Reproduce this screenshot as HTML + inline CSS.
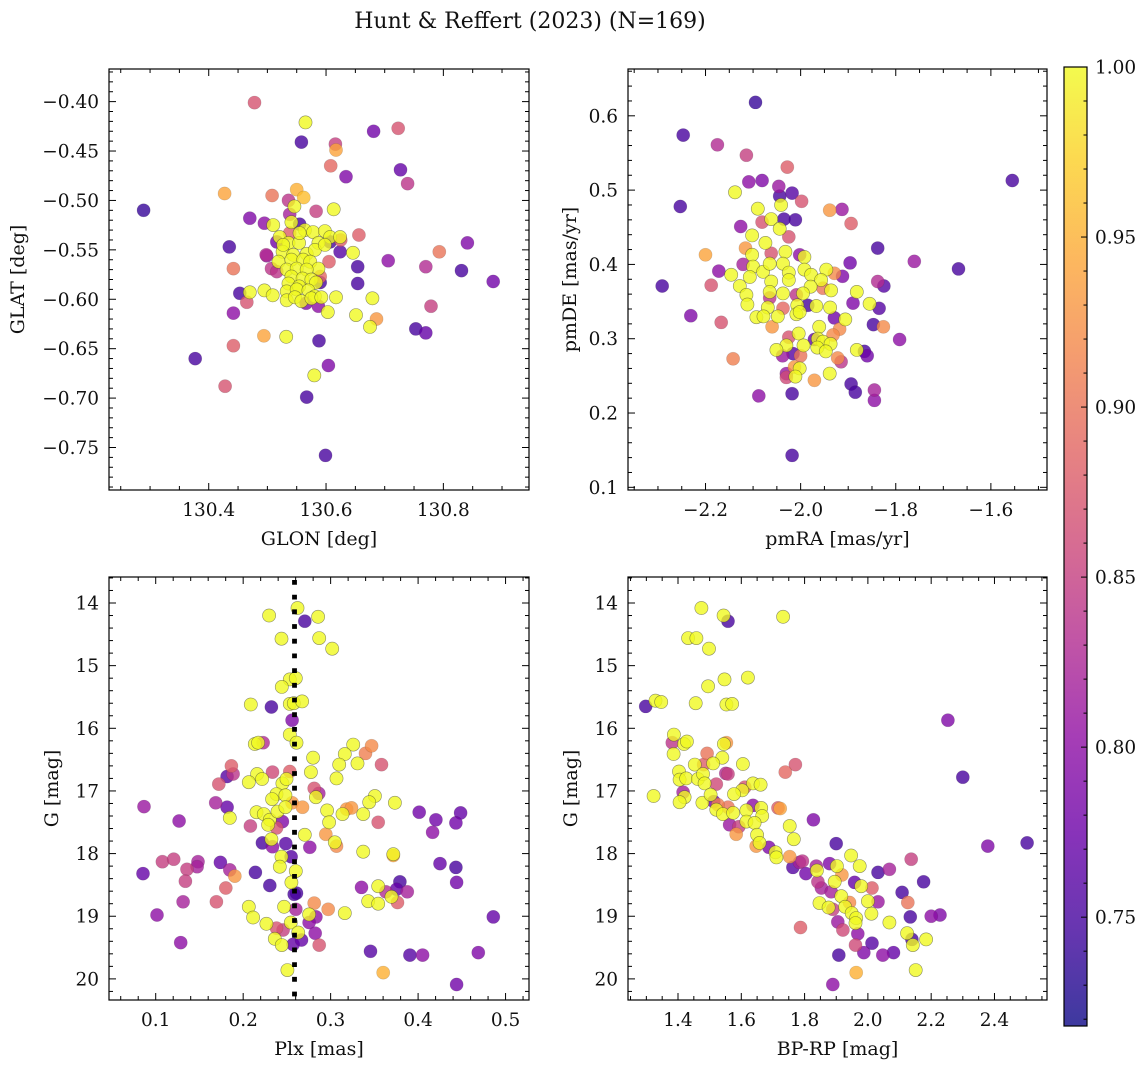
<!DOCTYPE html>
<html><head><meta charset="utf-8"><style>
html,body{margin:0;padding:0;background:#fff;}
svg text{font-family:"DejaVu Serif","Liberation Serif",serif;fill:#111;}
</style></head><body>
<svg id="fig" width="1148" height="1067" viewBox="0 0 1148 1067" xmlns="http://www.w3.org/2000/svg">
<defs>
<linearGradient id="plasmaGrad" x1="0" y1="1" x2="0" y2="0">
<stop offset="0" stop-color="#0d0887"/><stop offset="0.1" stop-color="#41049d"/><stop offset="0.2" stop-color="#6a00a8"/><stop offset="0.3" stop-color="#8f0da4"/><stop offset="0.4" stop-color="#b12a90"/><stop offset="0.5" stop-color="#cc4778"/><stop offset="0.6" stop-color="#e16462"/><stop offset="0.7" stop-color="#f2844b"/><stop offset="0.8" stop-color="#fca636"/><stop offset="0.9" stop-color="#fcce25"/><stop offset="1" stop-color="#f0f921"/>
</linearGradient>
</defs>
<text x="530" y="28" text-anchor="middle" font-size="22">Hunt &amp; Reffert (2023) (N=169)</text>
</svg>
<script>
// ---- Panel 1: GLON vs GLAT ----
const p1x=[130.478,130.565,130.558,130.681,130.723,130.616,130.617,130.608,130.634,130.727,130.739,130.427,130.508,130.550,130.562,130.536,130.546,130.583,130.613,130.289,130.470,130.495,130.510,130.538,130.541,130.555,130.656,130.625,130.624,130.841,130.793,130.435,130.646,130.442,130.499,130.507,130.605,130.654,130.706,130.770,130.831,130.885,130.654,130.453,130.470,130.495,130.509,130.465,130.617,130.679,130.442,130.603,130.651,130.686,130.675,130.779,130.753,130.770,130.494,130.532,130.588,130.442,130.377,130.604,130.580,130.428,130.567,130.599,
130.521,130.536,130.554,130.564,130.578,130.598,130.607,130.624,130.587,130.526,130.544,130.567,130.581,130.598,130.519,130.541,130.561,130.573,130.587,130.533,130.550,130.567,130.541,130.560,130.575,130.536,130.554,130.583,130.533,130.550,130.570,130.581,130.533,130.547,130.558,130.575,130.592,130.527,130.555,
130.516,130.498,130.516,130.590,130.590,130.566,130.587,130.607,130.538];
const p1y=[-0.401,-0.421,-0.441,-0.430,-0.427,-0.443,-0.449,-0.465,-0.476,-0.469,-0.483,-0.493,-0.495,-0.489,-0.497,-0.500,-0.506,-0.511,-0.509,-0.510,-0.518,-0.523,-0.525,-0.514,-0.522,-0.524,-0.535,-0.540,-0.552,-0.543,-0.552,-0.547,-0.553,-0.569,-0.556,-0.569,-0.562,-0.567,-0.561,-0.567,-0.571,-0.582,-0.584,-0.594,-0.593,-0.591,-0.596,-0.603,-0.598,-0.599,-0.614,-0.613,-0.616,-0.620,-0.628,-0.607,-0.630,-0.634,-0.637,-0.638,-0.642,-0.647,-0.660,-0.667,-0.677,-0.688,-0.699,-0.758,
-0.537,-0.543,-0.543,-0.530,-0.532,-0.531,-0.537,-0.537,-0.543,-0.552,-0.555,-0.554,-0.550,-0.545,-0.562,-0.560,-0.560,-0.562,-0.569,-0.570,-0.569,-0.570,-0.577,-0.579,-0.580,-0.584,-0.587,-0.583,-0.592,-0.590,-0.591,-0.597,-0.601,-0.598,-0.602,-0.599,-0.598,-0.545,-0.533,
-0.542,-0.555,-0.572,-0.577,-0.583,-0.604,-0.607,-0.542,-0.533];
const p1c=[.87,1,.75,.78,.87,.85,.94,.89,.79,.77,.84,.94,.90,.95,.96,.84,1,.85,1,.74,.79,.80,1,.82,1,.75,.88,.88,.76,.79,.90,.75,1,.90,.81,.84,.88,.75,.80,.83,.75,.78,.75,.75,1,1,1,.87,1,1,.80,1,1,.93,1,.85,.75,.77,.94,1,.75,.88,.75,.79,1,.87,.75,.75,
1,1,1,1,1,1,1,1,1,1,1,1,1,1,1,1,1,1,1,1,1,1,1,1,1,1,1,1,1,1,1,1,1,1,1,1,1,1,1,
.78,.83,.84,.89,.75,.79,.80,.75,.88];

// ---- Panel 2: pmRA vs pmDE ----
const p2x=[-2.095,-2.247,-2.175,-2.114,-2.028,-2.109,-2.081,-2.046,-2.018,-2.044,-2.138,-1.998,-2.253,-1.939,-1.913,-1.894,-2.090,-2.041,-2.062,-2.081,-2.035,-2.011,-2.126,-2.044,-2.025,-2.102,-2.074,-2.116,-2.102,-2.032,-2.062,-2.200,-1.838,-2.002,-1.992,-1.896,-1.761,-1.668,-1.555,-2.291,-2.172,-2.188,-2.146,-2.121,-2.100,-2.079,-2.065,-2.037,-2.025,-1.992,-1.978,-1.946,-1.929,-1.912,-1.957,-1.936,-1.953,-1.979,-2.128,-2.107,-2.062,-2.025,-1.838,-1.825,-1.882,-2.114,-2.065,-2.037,-2.009,-1.995,-2.065,-2.112,-2.069,-2.037,-2.007,-1.985,-1.967,-1.938,-1.890,-1.855,-1.835,-2.231,-2.167,-2.093,-2.078,-2.048,-2.009,-2.002,-1.929,-1.906,-2.060,-1.847,-1.826,-1.792,-1.961,-1.918,-1.932,-2.004,-1.971,-2.025,-2.030,-1.994,-1.964,-1.953,-1.937,-1.965,-1.947,-2.051,-2.038,-2.016,-2.000,-1.922,-1.915,-1.882,-1.866,-1.860,-2.142,-2.030,-2.030,-2.013,-2.002,-2.011,-1.939,-1.971,-1.894,-1.885,-1.845,-1.845,-2.088,-2.018,-2.018];
const p2y=[0.618,0.574,0.561,0.547,0.531,0.511,0.513,0.505,0.496,0.492,0.497,0.485,0.478,0.473,0.474,0.455,0.475,0.480,0.461,0.457,0.461,0.460,0.451,0.448,0.437,0.439,0.429,0.422,0.413,0.417,0.415,0.413,0.422,0.413,0.410,0.402,0.404,0.394,0.513,0.371,0.391,0.372,0.386,0.400,0.397,0.390,0.401,0.401,0.389,0.393,0.386,0.393,0.388,0.384,0.379,0.365,0.368,0.370,0.371,0.383,0.377,0.379,0.377,0.371,0.363,0.359,0.363,0.361,0.359,0.361,0.355,0.346,0.342,0.341,0.345,0.345,0.344,0.342,0.348,0.347,0.341,0.331,0.322,0.329,0.330,0.330,0.333,0.336,0.328,0.326,0.316,0.319,0.316,0.299,0.316,0.313,0.305,0.307,0.299,0.302,0.291,0.291,0.300,0.296,0.293,0.288,0.283,0.285,0.277,0.280,0.277,0.274,0.269,0.285,0.283,0.277,0.273,0.253,0.248,0.262,0.260,0.249,0.253,0.244,0.239,0.228,0.231,0.217,0.223,0.226,0.143];
const p2c=[.74,.75,.83,.85,.88,.80,.79,.81,.76,.75,1,.87,.75,.93,.81,.88,1,1,1,.87,.75,.75,.80,1,.87,1,1,.93,1,1,.87,.94,.75,.80,1,.78,.81,.75,.75,.75,.80,.87,1,.82,1,1,1,1,1,1,1,1,.92,.79,1,1,.90,1,1,1,1,1,.83,.76,1,1,1,1,.84,1,.84,1,1,.89,1,.75,1,1,.79,1,.76,.79,.87,1,1,1,1,1,.78,1,.93,.75,.92,.80,1,.92,.92,1,.77,.87,1,1,1,1,1,1,1,1,.81,.76,.90,.92,.84,1,.75,.78,.91,.81,.86,.93,1,1,1,.93,.75,.75,.82,.80,.80,.75,.75];

// ---- Panel 3: Plx vs G ----
const p3x=[0.2297,0.2621,0.2705,0.2857,0.2438,0.2869,0.3018,0.2533,0.2602,0.2442,0.2087,0.2323,0.2533,0.2579,0.2674,0.2560,0.2533,0.2610,0.2133,0.2228,0.2171,0.2800,0.2774,0.3258,0.3468,0.3399,0.3162,0.3098,0.3307,0.3582,0.3067,0.1866,0.1816,0.1885,0.1721,0.2159,0.2217,0.2064,0.2335,0.2533,0.2449,0.2495,0.2812,0.2865,0.2831,0.2381,0.2331,0.2483,0.3506,0.3441,0.3735,0.0866,0.1686,0.1816,0.1847,0.1267,0.2152,0.2236,0.2304,0.2392,0.2483,0.2560,0.2678,0.2449,0.2381,0.2285,0.2083,0.2960,0.2983,0.3136,0.3182,0.3239,0.3372,0.3544,0.4013,0.4204,0.4486,0.4432,0.4166,0.2705,0.2945,0.3048,0.3067,0.2762,0.3372,0.3716,0.3716,0.2220,0.2323,0.2335,0.2487,0.2548,0.2438,0.2419,0.1076,0.1206,0.1484,0.1473,0.1358,0.0855,0.1740,0.1847,0.1904,0.1339,0.2140,0.2602,0.2552,0.2304,0.4250,0.4432,0.4440,0.1801,0.1313,0.1694,0.2610,0.2583,0.3353,0.3544,0.3632,0.3792,0.3754,0.3876,0.3696,0.3765,0.3430,0.3544,0.2064,0.2114,0.2468,0.2602,0.2812,0.2972,0.3162,0.2754,0.2831,0.2754,0.2545,0.2629,0.2823,0.2266,0.2381,0.2457,0.2362,0.2442,0.2571,0.2667,0.2869,0.1015,0.1286,0.3456,0.3906,0.4051,0.4688,0.4860,0.2506,0.3601,0.4440];
const p3y=[14.20,14.08,14.29,14.22,14.57,14.56,14.73,15.22,15.20,15.34,15.62,15.66,15.61,15.60,15.57,15.87,16.10,16.23,16.25,16.23,16.23,16.47,16.70,16.26,16.28,16.40,16.41,16.58,16.56,16.58,16.80,16.60,16.77,16.73,16.89,16.73,16.81,16.86,16.70,16.69,16.88,16.81,16.96,17.04,17.10,17.05,17.13,17.07,17.08,17.18,17.19,17.25,17.19,17.26,17.43,17.48,17.34,17.37,17.46,17.33,17.26,17.19,17.26,17.49,17.59,17.54,17.56,17.31,17.50,17.37,17.29,17.27,17.37,17.50,17.34,17.46,17.35,17.51,17.66,17.70,17.69,17.82,17.88,17.90,17.97,18.03,18.01,17.83,17.77,17.89,17.84,18.05,18.05,18.21,18.13,18.09,18.13,18.21,18.25,18.32,18.14,18.26,18.36,18.44,18.30,18.28,18.46,18.51,18.16,18.22,18.46,18.55,18.77,18.77,18.63,18.65,18.54,18.52,18.61,18.45,18.57,18.61,18.69,18.78,18.76,18.80,18.85,19.02,18.85,18.89,18.79,18.89,18.95,18.97,19.01,19.10,19.10,19.26,19.27,19.12,19.19,19.22,19.36,19.46,19.45,19.38,19.46,18.98,19.42,19.56,19.62,19.62,19.58,19.01,19.86,19.90,20.09];
const p3c=[1,1,.75,1,1,1,1,1,1,1,1,.75,1,1,1,.79,1,1,1,.83,1,1,1,1,.92,.91,1,1,1,.87,1,.88,.76,.84,.87,1,1,1,.86,.88,1,1,.87,.82,1,1,1,1,1,1,1,.81,.82,.77,1,.80,1,1,1,1,1,.93,.93,.79,.87,1,.85,1,1,1,.93,.93,1,.87,.78,.78,.77,.78,.80,1,.93,1,.92,.80,1,.94,1,.75,1,.80,.76,.76,1,1,.85,.85,.82,.82,.85,.77,.77,.82,.93,.85,.75,1,1,.75,.77,.75,.78,.88,.82,.87,.75,.75,.80,1,.83,.75,.77,.82,1,.88,1,1,1,1,1,.82,.92,.92,1,1,.80,.80,1,1,.80,1,.87,.85,1,1,.77,.77,.87,.80,.80,.76,.76,.80,.79,.77,1,.95,.78];
const plxRef=0.2587;

// ---- Panel 4: BP-RP vs G ----
const p4x=[1.474,1.544,1.558,1.732,1.432,1.458,1.498,1.621,1.547,1.495,1.298,1.329,1.347,1.456,1.553,1.571,2.253,2.300,2.379,2.503,1.387,1.382,1.419,1.428,1.386,1.492,1.553,1.545,1.540,1.511,1.605,1.453,1.481,1.739,1.771,1.403,1.405,1.426,1.463,1.479,1.484,1.521,1.551,1.558,1.637,1.661,1.603,1.611,1.577,1.323,1.416,1.421,1.405,1.477,1.503,1.513,1.526,1.521,1.542,1.558,1.574,1.637,1.616,1.663,1.666,1.716,1.723,1.563,1.592,1.584,1.616,1.642,1.650,1.647,1.658,1.687,1.753,1.766,1.828,1.900,1.708,1.711,1.753,1.763,1.784,1.793,1.804,1.837,1.839,1.842,1.853,1.879,1.902,1.918,1.947,1.974,2.032,2.068,2.137,2.176,1.895,1.884,1.916,1.958,1.979,2.013,2.000,2.032,2.108,2.126,1.847,1.876,1.889,1.942,1.928,1.949,1.963,1.961,2.011,1.905,1.921,1.968,1.787,2.068,2.134,2.200,2.228,2.124,2.139,2.142,2.184,1.961,2.013,1.987,2.047,2.081,1.908,2.151,1.963,1.889];
const p4y=[14.08,14.20,14.29,14.22,14.56,14.56,14.73,15.19,15.22,15.33,15.65,15.56,15.58,15.60,15.62,15.61,15.87,16.78,17.88,17.83,16.10,16.23,16.25,16.21,16.41,16.40,16.23,16.25,16.47,16.56,16.57,16.58,16.58,16.70,16.58,16.69,16.82,16.80,16.81,16.73,16.88,16.89,16.72,16.73,16.88,16.90,16.99,16.94,17.05,17.08,17.02,17.10,17.18,17.19,17.06,17.17,17.22,17.30,17.37,17.26,17.35,17.23,17.31,17.27,17.40,17.27,17.28,17.54,17.57,17.69,17.49,17.51,17.70,17.88,17.83,17.90,17.56,17.77,17.46,17.84,17.98,18.06,18.05,18.22,18.14,18.12,18.32,18.20,18.27,18.45,18.55,18.16,18.20,18.34,18.03,18.20,18.30,18.25,18.09,18.45,18.45,18.61,18.68,18.46,18.52,18.55,18.76,18.77,18.62,18.78,18.79,18.86,18.89,18.78,18.85,18.95,19.03,19.11,18.96,19.09,19.22,19.28,19.18,19.10,19.01,19.00,18.98,19.27,19.37,19.46,19.37,19.46,19.43,19.58,19.62,19.58,19.62,19.86,19.90,20.09];
const p4c=[1,1,.75,1,1,1,1,1,1,1,.75,1,1,1,1,1,.79,.75,.79,.75,1,.84,1,1,1,.90,.93,1,1,1,1,1,.88,.89,.87,1,1,1,1,1,1,.86,.83,.85,1,1,1,.87,1,1,.82,1,1,1,1,.78,.91,1,1,.90,1,.80,1,1,1,.88,.94,.81,.85,.93,1,1,1,.93,1,.79,1,1,.79,.75,1,1,.93,.76,.82,.84,.78,.82,1,.84,.82,.79,1,.93,1,1,.75,.82,.85,.75,1,.82,1,.77,1,.88,1,.81,.75,.90,1,1,.85,.92,1,1,1,1,1,.81,.86,.80,.88,1,.75,.80,.79,1,.75,1,1,.86,.76,.79,.80,.77,.75,1,.95,.80];

// ---- colour scale ----
const cbTicks=[0.75,0.80,0.85,0.90,0.95,1.00];
const cMin=0.718, cMax=1.0;
const plasmaStops=["#0d0887","#41049d","#6a00a8","#8f0da4","#b12a90","#cc4778","#e16462","#f2844b","#fca636","#fcce25","#f0f921"];
function hex(h){return [parseInt(h.substr(1,2),16),parseInt(h.substr(3,2),16),parseInt(h.substr(5,2),16)];}
function plasma(v){let t=(v-cMin)/(cMax-cMin);t=Math.max(0,Math.min(1,t));const f=t*10;const i=Math.min(9,Math.floor(f));const r=f-i;const a=hex(plasmaStops[i]),b=hex(plasmaStops[i+1]);
return "rgb("+a.map((x,k)=>Math.round(x+(b[k]-x)*r)).join(",")+")";}

const svg=document.getElementById('fig');
const NS="http://www.w3.org/2000/svg";
function mk(tag,attrs,parent){const e=document.createElementNS(NS,tag);for(const k in attrs)e.setAttribute(k,attrs[k]);(parent||svg).appendChild(e);return e;}
function fmt(v,d){const s=Math.abs(v).toFixed(d);return (v<-1e-9?"\u2212":"")+s;}

function panel(cfg,xs,ys,cs){
  const g=mk('g',{});
  
  
  const [L,R]=cfg.px,[T,B]=cfg.py;
  const sx=v=>L+(v-cfg.xd[0])/(cfg.xd[1]-cfg.xd[0])*(R-L);
  const sy=cfg.inv? (v=>T+(v-cfg.yd[0])/(cfg.yd[1]-cfg.yd[0])*(B-T)) : (v=>B-(v-cfg.yd[0])/(cfg.yd[1]-cfg.yd[0])*(B-T));
  const idx=xs.map((_,i)=>i).filter(i=>i<ys.length&&i<cs.length).sort((a,b)=>cs[a]-cs[b]);
  const pg=mk('g',{},g);
  
  
  idx.forEach(i=>{
    const c=mk('circle',{cx:sx(xs[i]).toFixed(1),cy:sy(ys[i]).toFixed(1),r:6.6,fill:plasma(cs[i]),'fill-opacity':0.8,stroke:'#333','stroke-opacity':cs[i]>0.97?0.55:0.2,'stroke-width':0.6},pg);
    
    
  });
  if(cfg.extra)cfg.extra(g,sx,sy);
  const fr=mk('rect',{x:L,y:T,width:R-L,height:B-T,fill:'none',stroke:'#000','stroke-width':1.2},g);
  
  
  const tk=mk('g',{stroke:'#000','stroke-width':1},g);
  const xmin=Math.ceil(cfg.xd[0]/cfg.xm-1e-6),xmax=Math.floor(cfg.xd[1]/cfg.xm+1e-6);
  for(let k=xmin;k<=xmax;k++){const v=k*cfg.xm;const isMaj=cfg.xt.some(t=>Math.abs(t-v)<cfg.xm/3);const len=isMaj?7:4;const x=sx(v);
    mk('line',{x1:x,x2:x,y1:B,y2:B-len},tk);mk('line',{x1:x,x2:x,y1:T,y2:T+len},tk);}
  const ymin=Math.ceil(cfg.yd[0]/cfg.ym-1e-6),ymax=Math.floor(cfg.yd[1]/cfg.ym+1e-6);
  for(let k=ymin;k<=ymax;k++){const v=k*cfg.ym;const isMaj=cfg.yt.some(t=>Math.abs(t-v)<cfg.ym/3);const len=isMaj?7:4;const y=sy(v);
    mk('line',{x1:L,x2:L+len,y1:y,y2:y},tk);mk('line',{x1:R,x2:R-len,y1:y,y2:y},tk);}
  cfg.xt.forEach(v=>{const t=mk('text',{x:sx(v),y:B+26,'text-anchor':'middle','font-size':18.5},g);t.textContent=fmt(v,cfg.xdp);
    
    });
  cfg.yt.forEach(v=>{const t=mk('text',{x:L-10,y:sy(v)+6.5,'text-anchor':'end','font-size':18.5},g);t.textContent=fmt(v,cfg.ydp);
    
    });
  const xl=mk('text',{x:(L+R)/2,y:B+55,'text-anchor':'middle','font-size':19},g);xl.textContent=cfg.xlab;
  
  
  const yl=mk('text',{x:0,y:0,'text-anchor':'middle','font-size':19,transform:`translate(${cfg.ylx},${(T+B)/2}) rotate(-90)`},g);yl.textContent=cfg.ylab;
  
  
}

panel({name:'glon-glat-panel',px:[109,529],py:[69,490],xd:[130.230,130.946],yd:[-0.793,-0.367],xt:[130.4,130.6,130.8],xm:0.05,xdp:1,yt:[-0.40,-0.45,-0.50,-0.55,-0.60,-0.65,-0.70,-0.75],ym:0.01,ydp:2,xlab:'GLON [deg]',ylab:'GLAT [deg]',ylx:24},p1x,p1y,p1c);
panel({name:'pm-panel',px:[628,1047],py:[69,490],xd:[-2.363,-1.482],yd:[0.0964,0.663],xt:[-2.2,-2.0,-1.8,-1.6],xm:0.05,xdp:1,yt:[0.1,0.2,0.3,0.4,0.5,0.6],ym:0.02,ydp:1,xlab:'pmRA [mas/yr]',ylab:'pmDE [mas/yr]',ylx:576},p2x,p2y,p2c);
panel({name:'plx-g-panel',px:[109,529],py:[577,1000],xd:[0.0466,0.5268],yd:[13.585,20.337],inv:true,xt:[0.1,0.2,0.3,0.4,0.5],xm:0.02,xdp:1,yt:[14,15,16,17,18,19,20],ym:0.2,ydp:0,xlab:'Plx [mas]',ylab:'G [mag]',ylx:58,
  extra:(g,sx,sy)=>{const l=mk('line',{x1:sx(plxRef),x2:sx(plxRef),y1:580,y2:1000,stroke:'#000','stroke-width':4.8,'stroke-dasharray':'4.8 9.9'},g);
    
    }},p3x,p3y,p3c);
panel({name:'cmd-panel',px:[628,1047],py:[577,1000],xd:[1.242,2.566],yd:[13.585,20.337],inv:true,xt:[1.4,1.6,1.8,2.0,2.2,2.4],xm:0.05,xdp:1,yt:[14,15,16,17,18,19,20],ym:0.2,ydp:0,xlab:'BP-RP [mag]',ylab:'G [mag]',ylx:577},p4x,p4y,p4c);

// colorbar
const cb=mk('g',{});


const CT=67,CB=1026,CL=1064,CR=1087;
const cy=v=>CB-(v-cMin)/(cMax-cMin)*(CB-CT);
mk('rect',{x:CL,y:CT,width:CR-CL,height:CB-CT,fill:'url(#plasmaGrad)','fill-opacity':0.8},cb);
mk('rect',{x:CL,y:CT,width:CR-CL,height:CB-CT,fill:'none',stroke:'#000','stroke-width':1.2},cb);
for(let k=Math.ceil(cMin*100);k<=100;k++){const v=k/100;const maj=k%5===0;mk('line',{x1:CR,x2:CR-(maj?6:3.5),y1:cy(v),y2:cy(v),stroke:'#000','stroke-width':1},cb);}
cbTicks.forEach(v=>{const t=mk('text',{x:1095,y:cy(v)+6.5,'font-size':18.5},cb);t.textContent=v.toFixed(2);
  
  });
</script>
</body></html>
